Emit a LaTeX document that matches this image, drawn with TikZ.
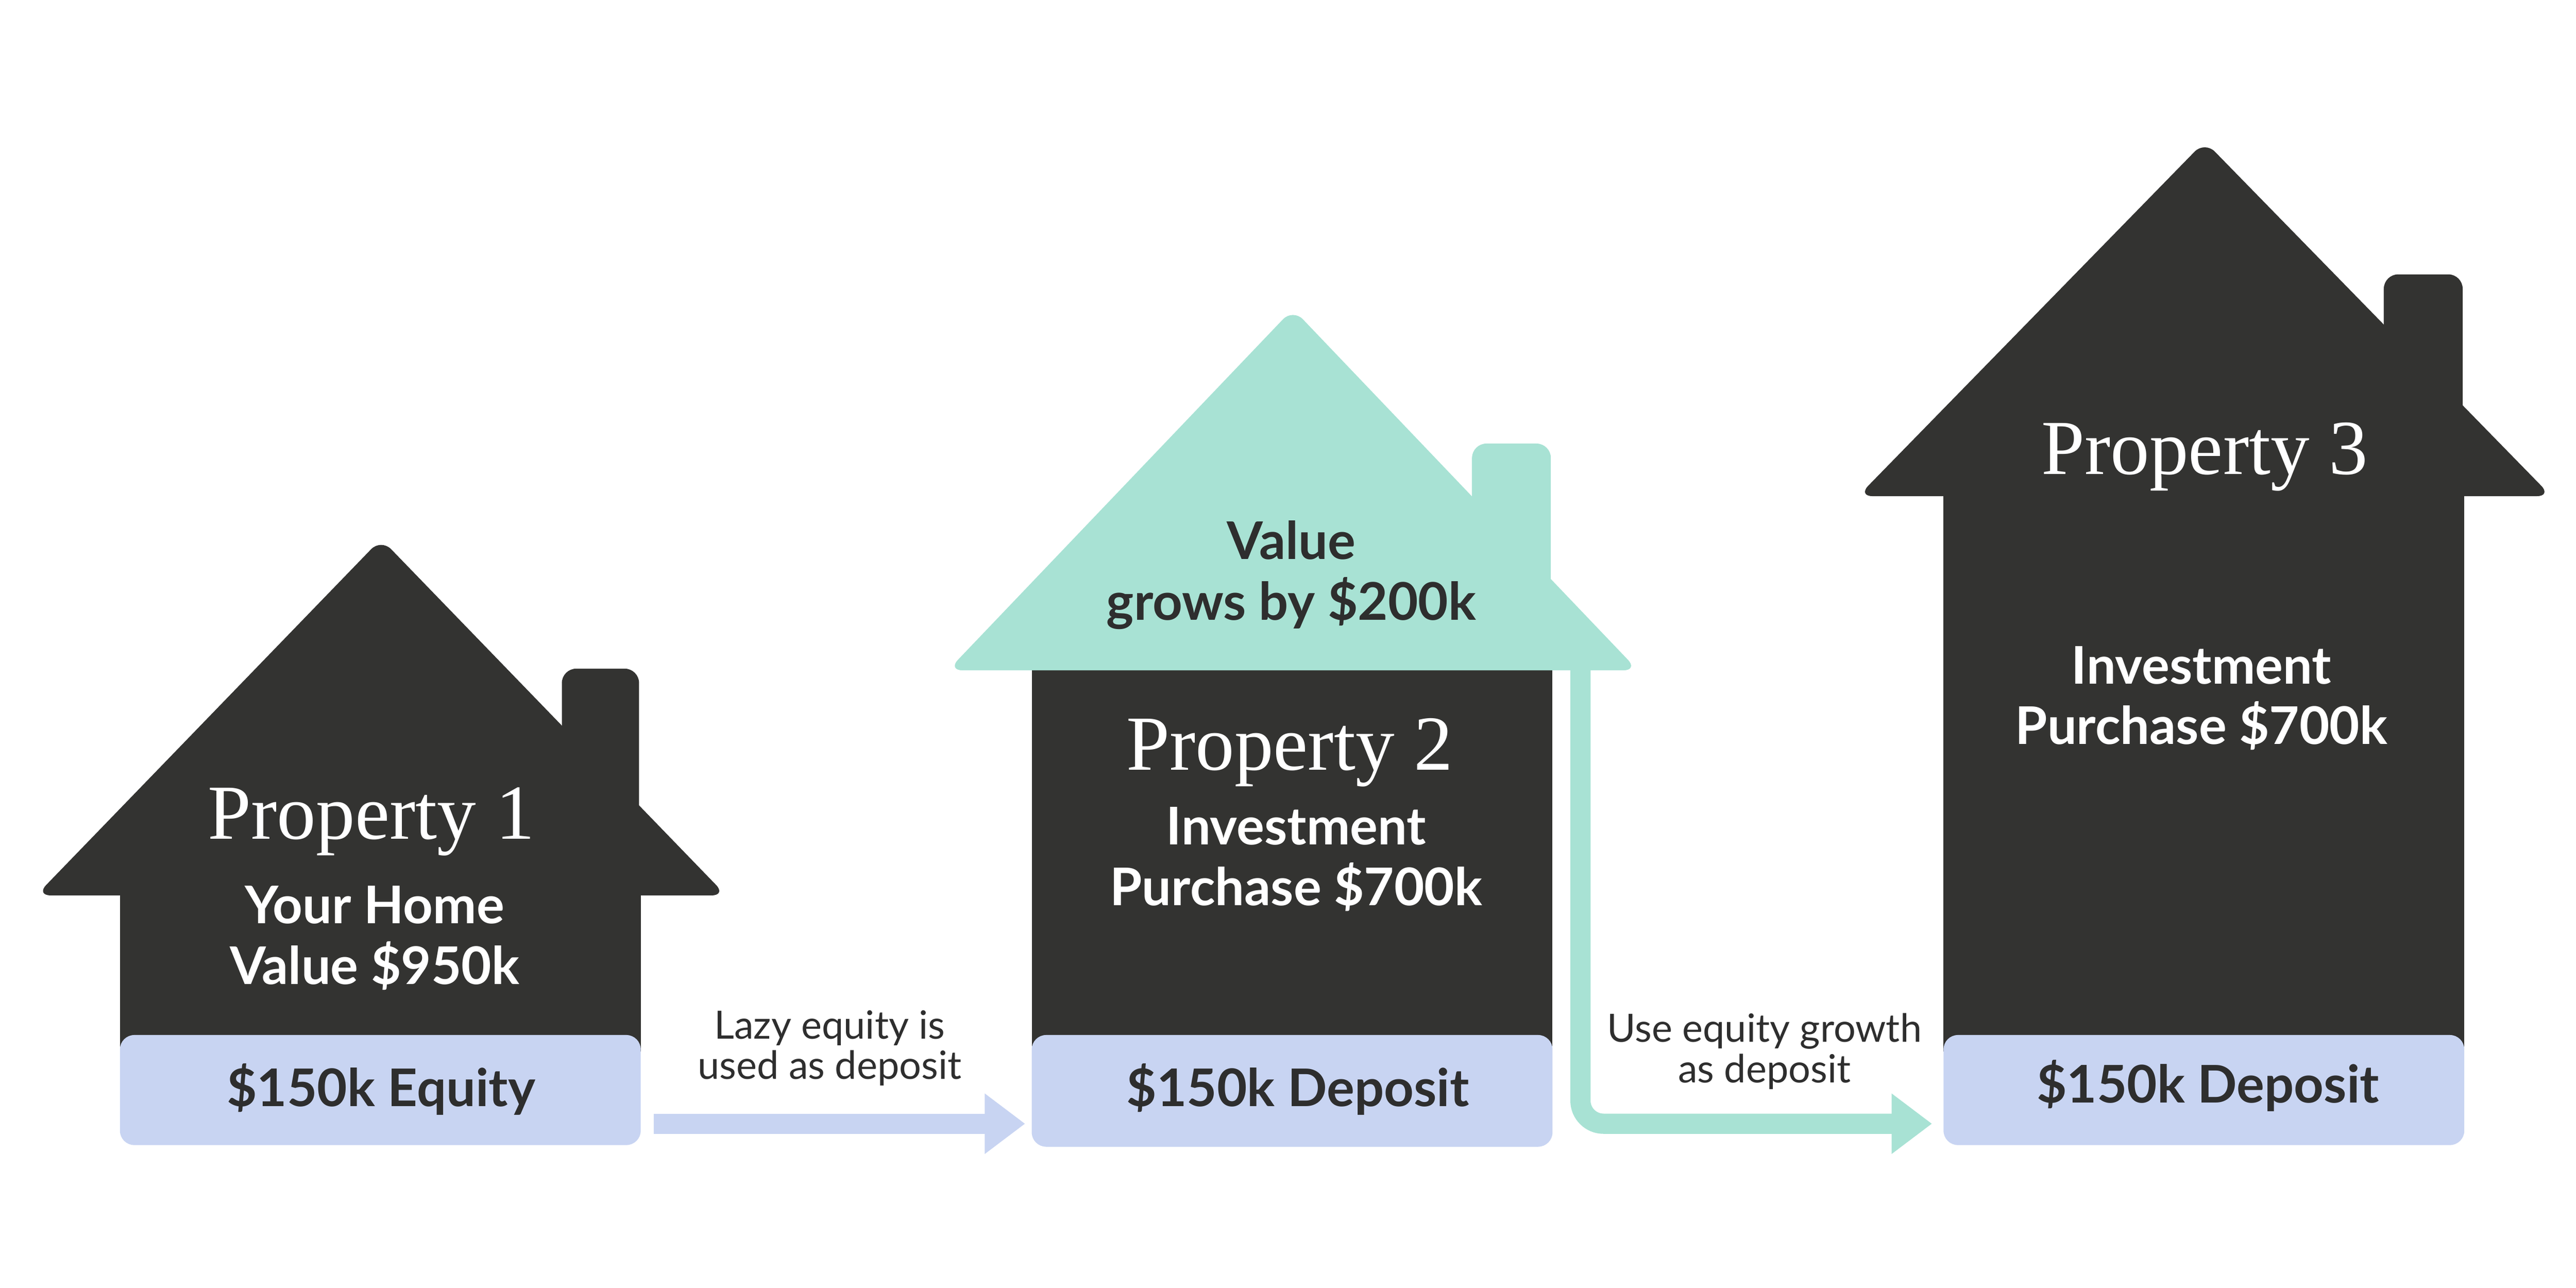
\documentclass[tikz,border=0pt]{standalone}
\usepackage{fontspec}
\setmainfont{Lato}
\newfontfamily\titlefont{Liberation Serif}
\usetikzlibrary{positioning,arrows.meta}
\definecolor{roofdark}{HTML}{333331}
\definecolor{lavender}{HTML}{C8D4F2}
\definecolor{mint}{HTML}{A8E2D4}
\definecolor{inkdark}{HTML}{2E2E2E}
\begin{document}
\begin{tikzpicture}
		[x=0.02cm,y=-0.02cm,
		dark/.style={fill=roofdark,rounded corners=5pt},
		base/.style={fill=lavender,rounded corners=5pt},
		title/.style={text=white,font=\titlefont\fontsize{27}{30}\selectfont},
		label/.style={text=white,font=\bfseries\fontsize{18}{21}\selectfont,align=center},
		baselabel/.style={text=inkdark,font=\bfseries\fontsize{18}{21}\selectfont},
		note/.style={text=inkdark,font=\fontsize{13.5}{14}\selectfont,align=center},
		flow/.style={line width=7pt,-{Triangle[length=14pt,width=20pt]}}]
		\useasboundingbox (0,0) rectangle (1568,784);

		% house 1
		\fill [dark] (342,407) rectangle (389,520);
		\fill [dark] (22,545) -- (232,328) -- (442,545) -- cycle;
		\fill [roofdark] (73,540) rectangle (390,640);
		\fill [base] (73,630) rectangle (390,697);
		\node [title] (t1) at (226,500) {Property 1};
		\node [label] (h1) at (228,571) {Your Home\\Value \$950k};
		\node [baselabel] (b1) at (232,663) {\$150k Equity};

		% house 2
		\fill [roofdark] (628,400) rectangle (945,640);
		\fill [base] (628,630) rectangle (945,698);
		\fill [mint,rounded corners=5pt] (896,270) rectangle (944,360);
		\fill [mint,rounded corners=5pt] (577,408) -- (787,188) -- (997,408) -- cycle;
		\node [label,text=inkdark] (g2) at (786,350) {Value\\grows by \$200k};
		\node [title] (t2) at (785,458) {Property 2};
		\node [label] (h2) at (789,523) {Investment\\Purchase \$700k};
		\node [baselabel] (b2) at (790,663) {\$150k Deposit};

		% house 3
		\fill [dark] (1451,167) rectangle (1499,280);
		\fill [dark] (1131,302) -- (1342,86) -- (1553,302) -- cycle;
		\fill [roofdark] (1183,295) rectangle (1500,640);
		\fill [base] (1183,630) rectangle (1500,697);
		\node [title] (t3) at (1342,278) {Property 3};
		\node [label] (h3) at (1340,425) {Investment\\Purchase \$700k};
		\node [baselabel] (b3) at (1344,661) {\$150k Deposit};

		% arrows
		\coordinate (s1) at (398,684);
		\coordinate (e1) at (624,684);
		\draw [flow,lavender] (s1) -- (e1);
		\node [note] (n1) at (505,638) {Lazy equity is\\used as deposit};
		\coordinate (s2) at (962,408);
		\coordinate (e2) at (1176,684);
		\draw [flow,mint,rounded corners=8pt] (s2) |- (e2);
		\node [note] (n2) at (1074,640) {Use equity growth\\as deposit};
	\end{tikzpicture}
\end{document}
